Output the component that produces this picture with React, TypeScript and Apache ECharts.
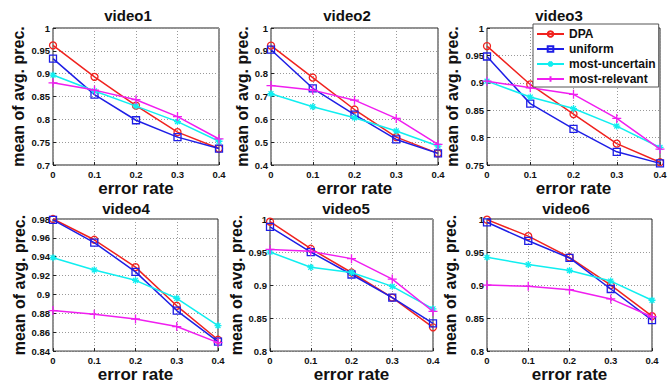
import React, { useEffect, useRef } from "react";
import * as echarts from "echarts";

const errorRates = [0, 0.1, 0.2, 0.3, 0.4];
const methodNames = ["DPA", "uniform", "most-uncertain", "most-relevant"];
const videoTitles = ["video1", "video2", "video3", "video4", "video5", "video6"];

const v1Dpa = [0.962, 0.893, 0.83, 0.772, 0.736];
const v1Uniform = [0.933, 0.854, 0.798, 0.761, 0.736];
const v1Uncertain = [0.897, 0.862, 0.829, 0.795, 0.752];
const v1Relevant = [0.88, 0.864, 0.843, 0.806, 0.757];

const v2Dpa = [0.923, 0.783, 0.643, 0.522, 0.451];
const v2Uniform = [0.905, 0.736, 0.621, 0.512, 0.451];
const v2Uncertain = [0.712, 0.655, 0.607, 0.549, 0.483];
const v2Relevant = [0.748, 0.728, 0.684, 0.604, 0.49];

const v3Dpa = [0.967, 0.897, 0.843, 0.789, 0.755];
const v3Uniform = [0.948, 0.862, 0.816, 0.774, 0.753];
const v3Uncertain = [0.903, 0.874, 0.853, 0.821, 0.782];
const v3Relevant = [0.903, 0.891, 0.879, 0.835, 0.779];

const v4Dpa = [0.98, 0.958, 0.929, 0.888, 0.852];
const v4Uniform = [0.979, 0.955, 0.924, 0.883, 0.85];
const v4Uncertain = [0.939, 0.926, 0.915, 0.896, 0.867];
const v4Relevant = [0.883, 0.879, 0.874, 0.866, 0.849];

const v5Dpa = [0.996, 0.955, 0.919, 0.881, 0.836];
const v5Uniform = [0.988, 0.95, 0.916, 0.881, 0.842];
const v5Uncertain = [0.95, 0.927, 0.919, 0.898, 0.864];
const v5Relevant = [0.954, 0.951, 0.94, 0.909, 0.86];

const v6Dpa = [0.999, 0.974, 0.942, 0.9, 0.853];
const v6Uniform = [0.995, 0.967, 0.941, 0.894, 0.847];
const v6Uncertain = [0.942, 0.931, 0.922, 0.906, 0.877];
const v6Relevant = [0.9, 0.898, 0.893, 0.879, 0.852];

const videoData = [
  [v1Dpa, v1Uniform, v1Uncertain, v1Relevant],
  [v2Dpa, v2Uniform, v2Uncertain, v2Relevant],
  [v3Dpa, v3Uniform, v3Uncertain, v3Relevant],
  [v4Dpa, v4Uniform, v4Uncertain, v4Relevant],
  [v5Dpa, v5Uniform, v5Uncertain, v5Relevant],
  [v6Dpa, v6Uniform, v6Uncertain, v6Relevant],
];

const yMins = [0.7, 0.4, 0.75, 0.84, 0.8, 0.8];
const yMaxs = [1, 1, 1, 0.98, 1, 1];
const yIntervals = [0.05, 0.1, 0.05, 0.02, 0.05, 0.05];

const FONT = "'Liberation Sans', Arial, Helvetica, sans-serif";
const colors = ["#f0221e", "#1e1ee6", "#10eef0", "#f01ef0"];

// layout
const gridLefts = [53, 271, 487, 53, 270, 487];
const gridTops = [28, 28, 28, 219, 219, 219];
const gridWidths = [166, 167, 173, 165, 163, 165];
const gridHeights = [137, 137, 137, 136, 136, 136];
const titleX = [128, 347, 559, 126, 346, 566];
const titleY = [15, 15, 15, 208, 208, 208];
const yNameGaps = [27, 13, 27, 25, 12, 29];

const plusPath = "path://M5,0L5,10M0,5L10,5";
const starPath = "path://M5,0L5,10M0,5L10,5M1.5,1.5L8.5,8.5M8.5,1.5L1.5,8.5";

function symbolFor(k: number) {
  if (k === 0) return { symbol: "circle", symbolSize: 7 };
  if (k === 1) return { symbol: "rect", symbolSize: 7 };
  if (k === 2) return { symbol: starPath, symbolSize: 7 };
  return { symbol: plusPath, symbolSize: 9 };
}

export default function App() {
  const ref = useRef<HTMLDivElement>(null);
  useEffect(() => {
    if (!ref.current) return;
    const chart = echarts.init(ref.current, undefined, { renderer: "svg" });

    const grid = videoTitles.map((_, i) => ({
      left: gridLefts[i],
      top: gridTops[i],
      width: gridWidths[i],
      height: gridHeights[i],
      show: true,
      borderColor: "#222",
      borderWidth: 1,
      backgroundColor: "#fff",
      containLabel: false,
    }));

    const xAxis = videoTitles.map((_, i) => ({
      type: "value",
      gridIndex: i,
      min: 0,
      max: 0.4,
      interval: 0.1,
      name: "error rate",
      nameLocation: "middle",
      nameGap: 13,
      nameTextStyle: { fontFamily: FONT, fontWeight: "bold", fontSize: 17, color: "#111" },
      axisLine: { show: false },
      axisTick: { show: true, inside: true, length: 3, lineStyle: { color: "#222" } },
      axisLabel: {
        fontFamily: FONT,
        fontWeight: "bold",
        fontSize: 9.5,
        color: "#111",
        margin: 4,
        showMinLabel: true,
        showMaxLabel: true,
      },
      splitLine: { show: true, lineStyle: { type: [1, 2], color: "#999", width: 1 } },
    }));

    const yAxis = videoTitles.map((_, i) => ({
      type: "value",
      gridIndex: i,
      min: yMins[i],
      max: yMaxs[i],
      interval: yIntervals[i],
      name: "mean of avg. prec.",
      nameLocation: "middle",
      nameGap: yNameGaps[i],
      nameTextStyle: { fontFamily: FONT, fontWeight: "bold", fontSize: 16, color: "#111" },
      axisLine: { show: false },
      axisTick: { show: true, inside: true, length: 3, lineStyle: { color: "#222" } },
      axisLabel: {
        fontFamily: FONT,
        fontWeight: "bold",
        fontSize: 9.5,
        color: "#111",
        margin: 3,
        showMinLabel: true,
        showMaxLabel: true,
      },
      splitLine: { show: true, lineStyle: { type: [1, 2], color: "#999", width: 1 } },
    }));

    const series: any[] = [];
    videoData.forEach((vals, i) => {
      vals.forEach((arr, k) => {
        const sym = symbolFor(k);
        series.push({
          type: "line",
          name: methodNames[k],
          xAxisIndex: i,
          yAxisIndex: i,
          data: errorRates.map((x, j) => [x, arr[j]]),
          symbol: sym.symbol,
          symbolSize: sym.symbolSize,
          showSymbol: true,
          clip: false,
          lineStyle: { color: colors[k], width: 1.5 },
          itemStyle: {
            color: "rgba(0,0,0,0)",
            borderColor: colors[k],
            borderWidth: 1.3,
          },
          emphasis: { disabled: true },
          z: 3 + k,
        });
      });
    });

    const graphic = videoTitles.map((t, i) => ({
      type: "text",
      x: titleX[i],
      y: titleY[i],
      style: {
        text: t,
        align: "center",
        verticalAlign: "middle",
        fontFamily: FONT,
        fontWeight: "bold",
        fontSize: 15,
        fill: "#111",
      },
    }));

    chart.setOption({
      animation: false,
      backgroundColor: "#fff",
      grid,
      xAxis,
      yAxis,
      series,
      graphic,
      legend: {
        data: methodNames,
        orient: "vertical",
        left: 533,
        top: 24,
        padding: [4, 3, 2, 3],
        itemWidth: 27,
        itemHeight: 7,
        itemGap: 3,
        backgroundColor: "#fff",
        borderColor: "#555",
        borderWidth: 1,
        borderRadius: 0,
        z: 10,
        textStyle: {
          fontFamily: FONT,
          fontWeight: "bold",
          fontSize: 12,
          color: "#111",
          lineHeight: 12,
          padding: [0, 0, 0, 0],
        },
      },
    });

    return () => chart.dispose();
  }, []);

  return (
    <div
      ref={ref}
      style={{ position: "fixed", left: 0, top: 0, width: 671, height: 384, background: "#fff" }}
    />
  );
}
